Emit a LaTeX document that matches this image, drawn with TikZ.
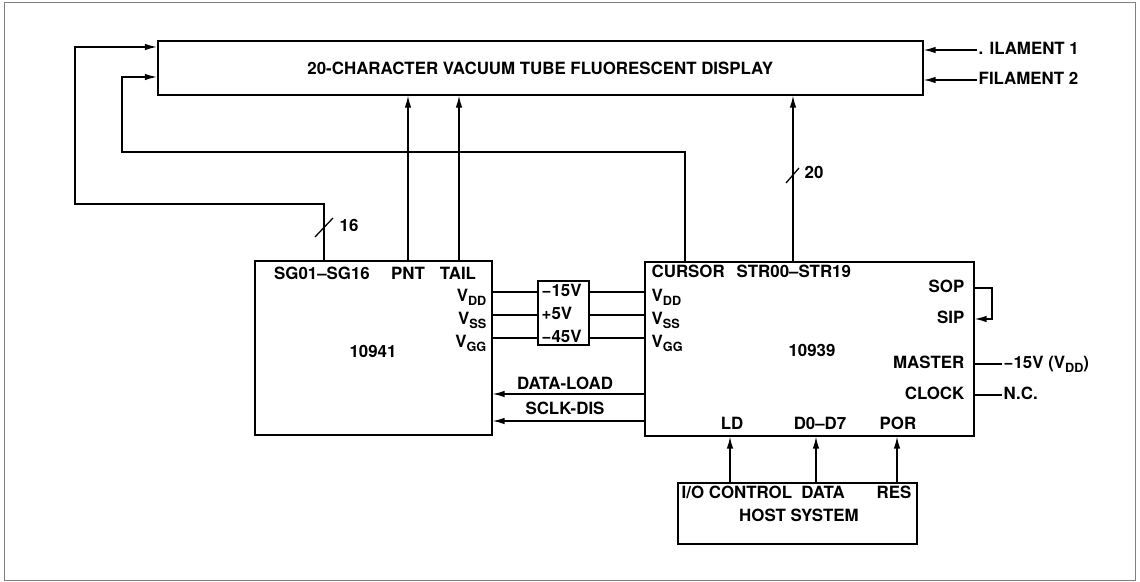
\documentclass[tikz,border=0pt]{standalone}
\usepackage{fontspec}
\setmainfont{TeX Gyre Heros}
\usetikzlibrary{arrows.meta,positioning,calc}
\newcommand{\lowsub}[1]{\raisebox{-0.45ex}{\fontsize{9}{10}\selectfont #1}}
\tikzset{
  bloque/.style={draw,line width=1.1pt,inner sep=0pt,anchor=north west},
  rotulo/.style={font=\fontsize{12}{14}\selectfont\bfseries,inner sep=1pt,text height=8.7pt,text depth=2pt},
  flecha/.style={-{Latex[length=3mm,width=1.6mm]},line width=1pt},
  linea/.style={line width=1pt},
  barra/.style={line width=0.9pt},
}
\begin{document}
\begin{tikzpicture}[x=0.025cm,y=-0.025cm]
  \useasboundingbox (0,0) rectangle (1140,582);
  \draw[gray,line width=0.6pt] (4,2) rectangle (1135,580);
  % bloques
  \node[bloque,minimum width=765*0.025cm,minimum height=54*0.025cm] (disp) at (157,40) {};
  \node[rotulo] (titulo) at ($(disp.center)+(0,2)$) {20-CHARACTER VACUUM TUBE FLUORESCENT DISPLAY};
  \node[bloque,minimum width=237*0.025cm,minimum height=174*0.025cm] (chipA) at (254,260) {};
  \node[bloque,minimum width=329*0.025cm,minimum height=174*0.025cm] (chipB) at (644,261) {};
  \node[bloque,minimum width=51*0.025cm,minimum height=64*0.025cm] (fuente) at (537,280) {};
  \node[bloque,minimum width=239*0.025cm,minimum height=61*0.025cm] (host) at (677,482) {};
  % rotulos 10941
  \node[rotulo] (sgA) at (322,275) {SG01--SG16};
  \node[rotulo] (pntA) at (408,275) {PNT};
  \node[rotulo] (tailA) at (458,275) {TAIL};
  \node[rotulo,anchor=east] (vddA) at (488,297) {V\lowsub{DD}};
  \node[rotulo,anchor=east] (vssA) at (488,320) {V\lowsub{SS}};
  \node[rotulo,anchor=east] (vggA) at (488,343) {V\lowsub{GG}};
  \node[rotulo] (numA) at (373,353) {10941};
  % rotulos 10939
  \node[rotulo,anchor=west] (curB) at (650,273) {CURSOR};
  \node[rotulo,anchor=west] (strB) at (735,273) {STR00--STR19};
  \node[rotulo,anchor=west] (vddB) at (650,297) {V\lowsub{DD}};
  \node[rotulo,anchor=west] (vssB) at (650,320) {V\lowsub{SS}};
  \node[rotulo,anchor=west] (vggB) at (650,343) {V\lowsub{GG}};
  \node[rotulo] (numB) at (812,352) {10939};
  \node[rotulo,anchor=east] (sopB) at (966,288) {SOP};
  \node[rotulo,anchor=east] (sipB) at (966,319) {SIP};
  \node[rotulo,anchor=east] (masB) at (966,364) {MASTER};
  \node[rotulo,anchor=east] (clkB) at (966,395) {CLOCK};
  \node[rotulo] (ldB) at (732,425) {LD};
  \node[rotulo] (dB) at (820,425) {D0--D7};
  \node[rotulo] (porB) at (898,425) {POR};
  % fuente
  \node[rotulo,anchor=west] (v15) at (540,292) {−15V};
  \node[rotulo,anchor=west] (v5) at (540,315) {+5V};
  \node[rotulo,anchor=west] (v45) at (540,338) {−45V};
  % host
  \node[rotulo,anchor=west] (ioH) at (680,494) {I/O CONTROL};
  \node[rotulo] (dataH) at (823,494) {DATA};
  \node[rotulo] (resH) at (894,494) {RES};
  \node[rotulo] (hostH) at (799,517) {HOST SYSTEM};
  % rotulos externos
  \node[rotulo,anchor=west] (fil1) at (977,50) {. ILAMENT 1};
  \node[rotulo,anchor=west] (fil2) at (977,80) {FILAMENT 2};
  \node[rotulo,anchor=west] (vneg) at (1002,364) {−15V (V\lowsub{DD})};
  \node[rotulo,anchor=west] (nc) at (1002,395) {N.C.};
  \node[rotulo] (dl) at (565,385) {DATA-LOAD};
  \node[rotulo] (sd) at (565,410) {SCLK-DIS};
  \node[rotulo,anchor=west] (n16) at (338,227) {16};
  \node[rotulo,anchor=west] (n20) at (803,174) {20};
  % pines
  \coordinate (pSG) at ($(chipA.north west)+(70,0)$);
  \coordinate (pPNT) at ($(chipA.north west)+(154,0)$);
  \coordinate (pTAIL) at ($(chipA.north west)+(205,0)$);
  \coordinate (pCUR) at ($(chipB.north west)+(41,0)$);
  \coordinate (pSTR) at ($(chipB.north west)+(149,0)$);
  % conexiones al display
  \draw[flecha] (pSG) |- (75,204) |- ($(disp.north west)+(0,7)$);
  \draw[flecha] (pCUR) |- (122,152) |- ($(disp.north west)+(0,37)$);
  \draw[flecha] (pPNT) -- (pPNT |- disp.south);
  \draw[flecha] (pTAIL) -- (pTAIL |- disp.south);
  \draw[flecha] (pSTR) -- (pSTR |- disp.south);
  \draw[barra] ($(pSG)+(-9,-23)$) -- ($(pSG)+(9,-42)$);
  \draw[barra] ($(pSTR)+(-7,-78)$) -- ($(pSTR)+(6,-93)$);
  \draw[flecha] (fil1.west) -- (disp.east |- fil1.west);
  \draw[flecha] (fil2.west) -- (disp.east |- fil2.west);
  % alimentacion
  \foreach \dy in {12,35,58}{
    \draw[linea] (chipA.east |- {$(fuente.north west)+(0,\dy)$}) -- ($(fuente.north west)+(0,\dy)$);
    \draw[linea] ($(fuente.north east)+(0,\dy)$) -- (chipB.west |- {$(fuente.north east)+(0,\dy)$});
  }
  % senales entre chips
  \draw[flecha] (chipB.west |- 0,394) -- (chipA.east |- 0,394);
  \draw[flecha] (chipB.west |- 0,421) -- (chipA.east |- 0,421);
  \draw[flecha] (chipB.east |- sopB) -| (992,319) -- (chipB.east |- sipB);
  \draw[linea] (chipB.east |- vneg.west) -- (vneg.west);
  \draw[linea] (chipB.east |- nc.west) -- (nc.west);
  % host
  \draw[flecha] (host.north -| 730,0) -- (chipB.south -| 730,0);
  \draw[flecha] (host.north -| 816,0) -- (chipB.south -| 816,0);
  \draw[flecha] (host.north -| 897,0) -- (chipB.south -| 897,0);
\end{tikzpicture}
\end{document}
